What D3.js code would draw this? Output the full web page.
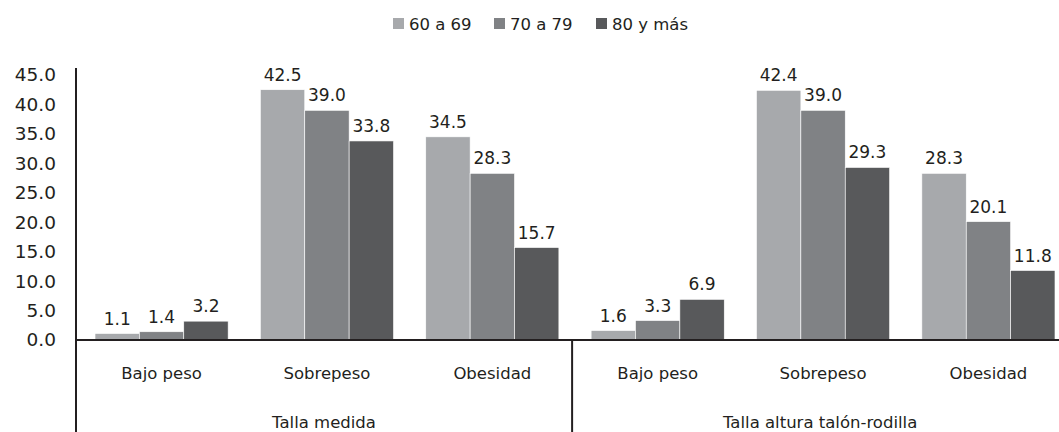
<!DOCTYPE html>
<html><head><meta charset="utf-8">
<script src="https://cdn.jsdelivr.net/npm/d3@7"></script>
<style>body{margin:0;background:#fff}svg{display:block}text{font-family:"DejaVu Sans",sans-serif;fill:#231f20}</style>
</head><body>
<svg id="c" width="1059" height="432"></svg>
<script>
const groups = ["Talla medida", "Talla altura talón-rodilla"];
const categories = ["Bajo peso", "Sobrepeso", "Obesidad"];
const seriesNames = ["60 a 69", "70 a 79", "80 y más"];
const s60 = [1.1, 42.5, 34.5, 1.6, 42.4, 28.3];
const s70 = [1.4, 39.0, 28.3, 3.3, 39.0, 20.1];
const s80 = [3.2, 33.8, 15.7, 6.9, 29.3, 11.8];
const yTicks = [0, 5, 10, 15, 20, 25, 30, 35, 40, 45];
const colors = ["#a7a9ac", "#808285", "#58595b"];

const series = [s60, s70, s80];
const keys = [];
groups.forEach((g, gi) => categories.forEach(c => keys.push(gi + "|" + c)));

const svg = d3.select("#c");
const x0 = d3.scaleBand().domain(keys).range([76, 1074]).paddingInner(0.195).paddingOuter(0.115);
const x1 = d3.scaleBand().domain(seriesNames).range([0, x0.bandwidth()]);
const y = d3.scaleLinear().domain([0, 45]).range([340, 75]);

// bars
keys.forEach((k, i) => {
  seriesNames.forEach((s, si) => {
    const v = series[si][i];
    const bx = x0(k) + x1(s);
    svg.append("rect").attr("x", bx).attr("y", y(v)).attr("width", x1.bandwidth()).attr("height", y(0) - y(v))
      .attr("fill", colors[si]).attr("stroke", "#fff").attr("stroke-width", 0.6);
    svg.append("text").attr("x", bx + x1.bandwidth() / 2).attr("y", y(v) - 9).attr("text-anchor", "middle")
      .attr("font-size", 17).text(v.toFixed(1));
  });
});

// y axis labels
yTicks.forEach(t => {
  svg.append("text").attr("x", 56).attr("y", y(t)).attr("dy", "0.35em").attr("text-anchor", "end")
    .attr("font-size", 18.5).text(t.toFixed(1));
});

// axis lines
svg.append("line").attr("x1", 76).attr("x2", 76).attr("y1", 68).attr("y2", 432).attr("stroke", "#231f20").attr("stroke-width", 2);
svg.append("line").attr("x1", 76).attr("x2", 1059).attr("y1", y(0)).attr("y2", y(0)).attr("stroke", "#231f20").attr("stroke-width", 2);
const div = x0.step() * 3 + 76;
svg.append("line").attr("x1", div).attr("x2", div).attr("y1", y(0)).attr("y2", 432).attr("stroke", "#231f20").attr("stroke-width", 2);

// category labels
keys.forEach((k, i) => {
  svg.append("text").attr("x", x0(k) + x0.bandwidth() / 2).attr("y", 373).attr("dy", "0.35em").attr("text-anchor", "middle")
    .attr("font-size", 16.5).text(categories[i % 3]);
});
groups.forEach((g, gi) => {
  svg.append("text").attr("x", 76 + x0.step() * (3 * gi + 1.5)).attr("y", 422).attr("dy", "0.35em").attr("text-anchor", "middle")
    .attr("font-size", 16.5).text(g);
});

// legend
const legX = [393, 494, 596];
seriesNames.forEach((s, si) => {
  svg.append("rect").attr("x", legX[si]).attr("y", 18).attr("width", 11).attr("height", 11).attr("fill", colors[si]);
  svg.append("text").attr("x", legX[si] + 16).attr("y", 24).attr("dy", "0.35em").attr("font-size", 16.5).text(s);
});
</script>
</body></html>
